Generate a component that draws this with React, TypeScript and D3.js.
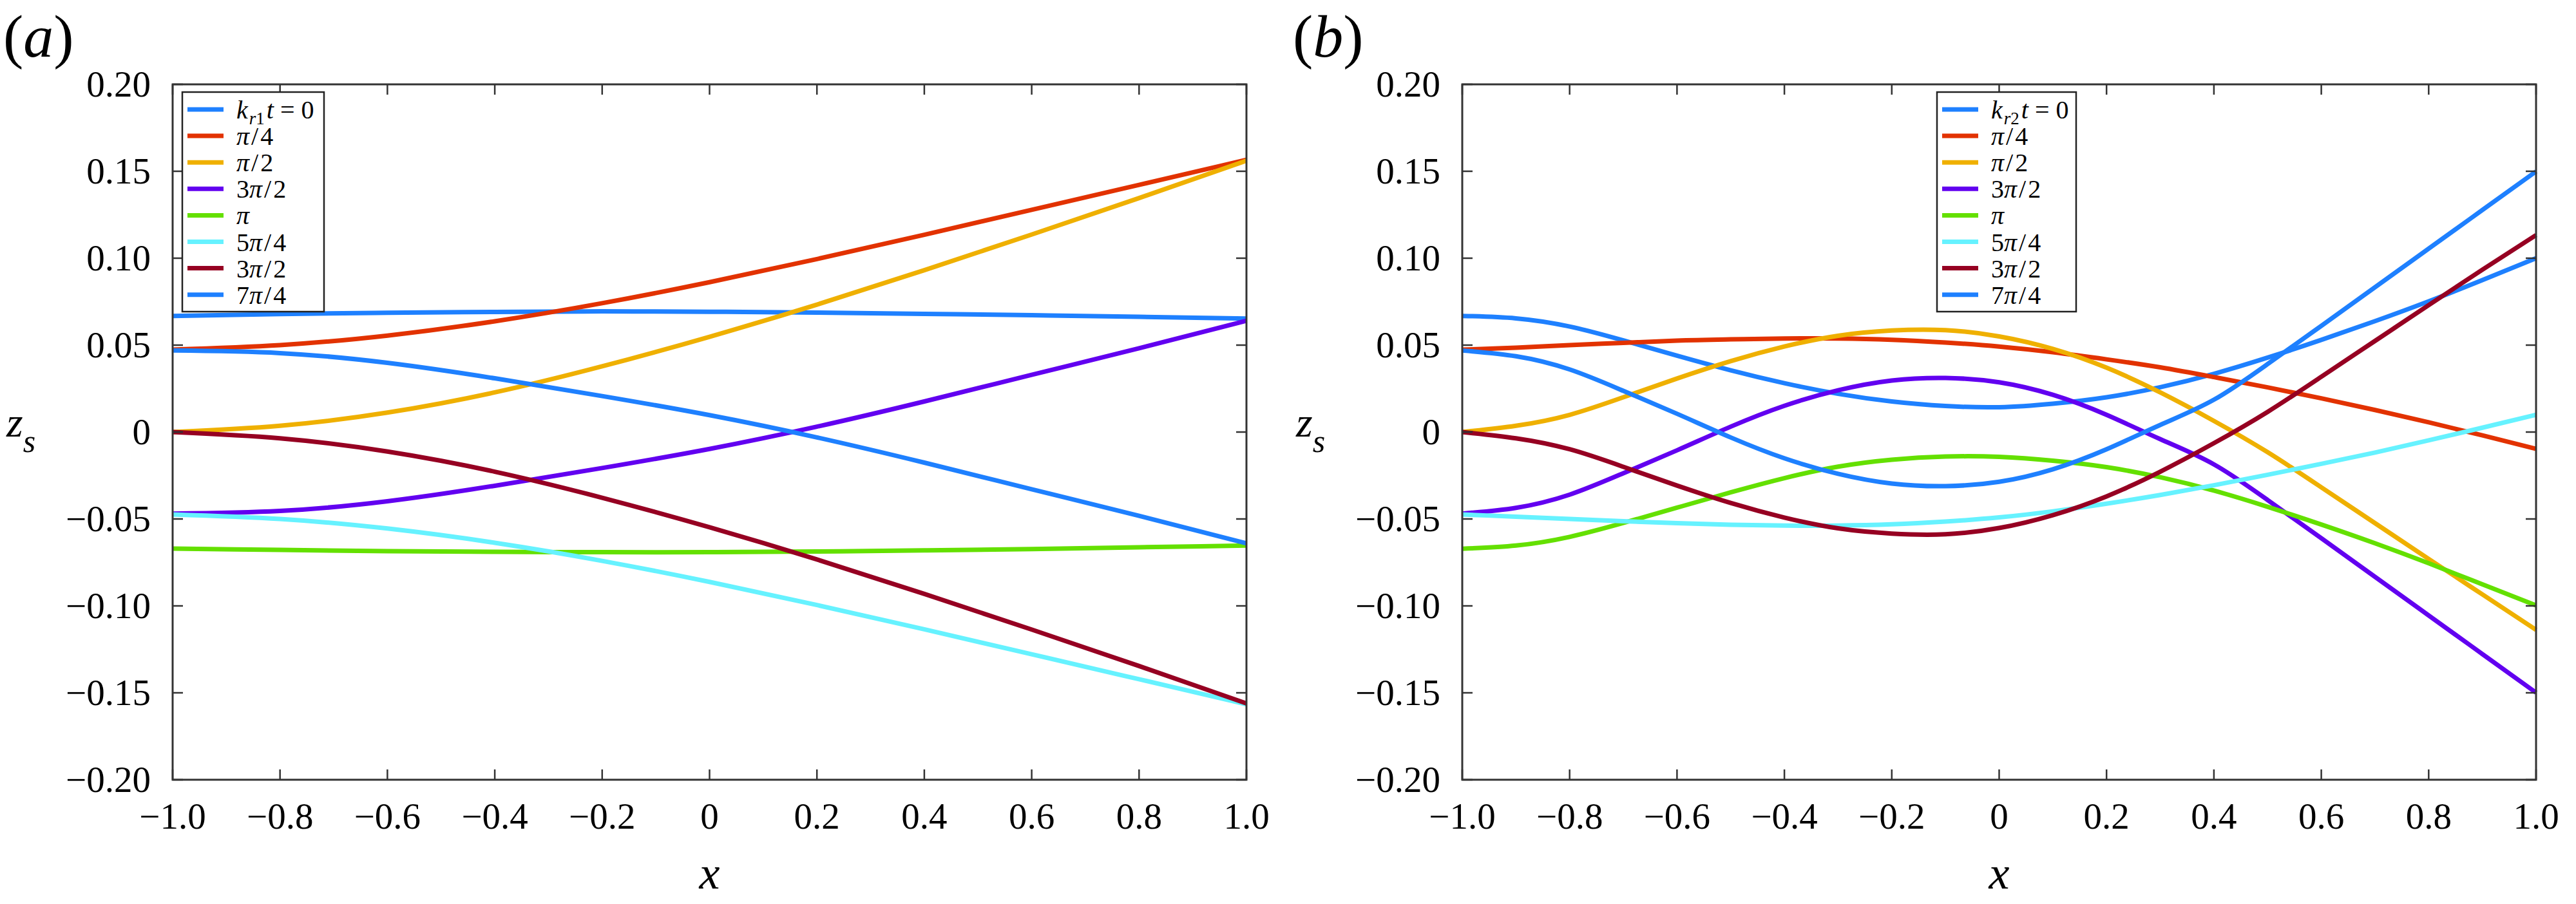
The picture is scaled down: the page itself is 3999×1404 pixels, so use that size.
import { curveNatural, line, scaleLinear } from 'd3';

// x positions where curves were sampled
const xGridA = [-1, -0.8, -0.6, -0.4, -0.2, 0, 0.2, 0.4, 0.6, 0.8, 1];
const xGridB = [
  -1, -0.9, -0.8, -0.7, -0.6, -0.5, -0.4, -0.3, -0.2, -0.1, 0,
  0.1, 0.2, 0.3, 0.4, 0.5, 0.6, 0.7, 0.8, 0.9, 1,
];

// panel (a), k_r1 t = 0 ... 7π/4
const aKt0 = [0.0668, 0.0679, 0.0686, 0.0691, 0.0694, 0.0692, 0.0687, 0.068, 0.0672, 0.0663, 0.0653];
const aPi4 = [0.0474, 0.05, 0.0555, 0.0637, 0.0741, 0.0862, 0.0995, 0.1135, 0.1278, 0.1422, 0.1566];
const aPi2 = [0.0, 0.0036, 0.0112, 0.0228, 0.0378, 0.0548, 0.0733, 0.0931, 0.1136, 0.1346, 0.1561];
const a3Pi2 = [-0.0469, -0.0454, -0.0398, -0.0309, -0.0207, -0.0097, 0.0031, 0.0176, 0.0329, 0.0482, 0.064];
const aPi = [-0.067, -0.0678, -0.0685, -0.0689, -0.0691, -0.0691, -0.0687, -0.0681, -0.0673, -0.0663, -0.0653];
const a5Pi4 = [-0.0474, -0.05, -0.0555, -0.0637, -0.0741, -0.0862, -0.0995, -0.1135, -0.1278, -0.1422, -0.1566];
const a3Pi2b = [0.0, -0.0036, -0.0112, -0.0228, -0.0378, -0.0548, -0.0733, -0.0931, -0.1136, -0.1346, -0.1561];
const a7Pi4 = [0.0469, 0.0454, 0.0398, 0.0309, 0.0207, 0.0097, -0.0031, -0.0176, -0.0329, -0.0482, -0.064];

// panel (b), k_r2 t = 0 ... 7π/4
const bKt0 = [
  0.0668, 0.0654, 0.0607, 0.0527, 0.0439, 0.0355, 0.0281, 0.022, 0.0176, 0.015, 0.0143,
  0.0163, 0.02, 0.0258, 0.0335, 0.0428, 0.053, 0.0638, 0.0752, 0.0874, 0.1,
];
const bPi4 = [
  0.0474, 0.0485, 0.05, 0.0513, 0.0526, 0.0533, 0.0538, 0.0538, 0.0531, 0.0515, 0.0492,
  0.0459, 0.0418, 0.0372, 0.0316, 0.0257, 0.0194, 0.0127, 0.0056, -0.0019, -0.0097,
];
const bPi2 = [
  0.0, 0.0036, 0.0099, 0.02, 0.0308, 0.0408, 0.0492, 0.0554, 0.0584, 0.0586, 0.055,
  0.0478, 0.037, 0.0228, 0.0064, -0.0116, -0.0318, -0.0524, -0.073, -0.0934, -0.1138,
];
const b3Pi2 = [
  -0.0469, -0.0436, -0.036, -0.0237, -0.0105, 0.0031, 0.0151, 0.024, 0.0296, 0.0311, 0.0286,
  0.0214, 0.0099, -0.0041, -0.0186, -0.0391, -0.0611, -0.0833, -0.1055, -0.1277, -0.1499,
];
const bPi = [
  -0.0671, -0.0653, -0.0603, -0.0523, -0.0435, -0.0347, -0.0265, -0.0199, -0.0159, -0.0141, -0.0143,
  -0.0165, -0.0202, -0.026, -0.0337, -0.043, -0.0532, -0.064, -0.0755, -0.0876, -0.0997,
];
const b5Pi4 = [
  -0.0474, -0.0487, -0.05, -0.0513, -0.0524, -0.0533, -0.0538, -0.0538, -0.0531, -0.0515, -0.0491,
  -0.0456, -0.0412, -0.0362, -0.0306, -0.0246, -0.0183, -0.0118, -0.0048, 0.0025, 0.0099,
];
const b3Pi2b = [
  0.0, -0.0036, -0.0099, -0.02, -0.0308, -0.0408, -0.0492, -0.0554, -0.0584, -0.0588, -0.0552,
  -0.0478, -0.037, -0.0228, -0.0064, 0.0116, 0.0318, 0.0524, 0.073, 0.0934, 0.1133,
];
const b7Pi4 = [
  0.0469, 0.0436, 0.036, 0.0237, 0.0105, -0.0031, -0.0151, -0.024, -0.0296, -0.0311, -0.0286,
  -0.0214, -0.0099, 0.0041, 0.0186, 0.0391, 0.0611, 0.0833, 0.1055, 0.1277, 0.1499,
];

const legendLabels = ['t = 0', 'π/4', 'π/2', '3π/2', 'π', '5π/4', '3π/2', '7π/4'];
const colors = ['#1e80ff', '#e23200', '#efb000', '#6200f0', '#64e000', '#66f2ff', '#960022', '#1e80ff'];

const xTicks = [-1, -0.8, -0.6, -0.4, -0.2, 0, 0.2, 0.4, 0.6, 0.8, 1];
const xTickLabels = ['−1.0', '−0.8', '−0.6', '−0.4', '−0.2', '0', '0.2', '0.4', '0.6', '0.8', '1.0'];
const yTicks = [0.2, 0.15, 0.1, 0.05, 0, -0.05, -0.1, -0.15, -0.2];
const yTickLabels = ['0.20', '0.15', '0.10', '0.05', '0', '−0.05', '−0.10', '−0.15', '−0.20'];

const FONT = 'Liberation Serif';
const W = 3999;
const H = 1404;
const plotW = 1667;
const plotH = 1080;
const plotTop = 131;

function LegendText({ text }: { text: string }) {
  // π set in italic, the rest upright
  const parts = text.split(/(π|\/)/).filter((p) => p !== '');
  return (
    <>
      {parts.map((p, i) => (
        <tspan
          key={i}
          fontStyle={p === 'π' ? 'italic' : 'normal'}
          dx={p === '/' || (i > 0 && parts[i - 1] === '/') ? 3 : 0}
        >
          {p}
        </tspan>
      ))}
    </>
  );
}

interface PanelProps {
  left: number;
  tag: string;
  sub: string;
  xs: number[];
  series: number[][];
  legendDx: number;
  legendW: number;
}

function Panel({ left, tag, sub, xs, series, legendDx, legendW }: PanelProps) {
  const x = scaleLinear().domain([-1, 1]).range([left, left + plotW]);
  const y = scaleLinear().domain([-0.2, 0.2]).range([plotTop + plotH, plotTop]);
  const path = line<number>()
    .x((_, i) => x(xs[i]))
    .y((d) => y(d))
    .curve(curveNatural);

  const tickLen = 16;
  const lgX = left + legendDx;
  const lgY = 143;
  const rowH = 41.1;

  return (
    <g>
      {/* panel tag */}
      <text x={left - 263} y={88} fontFamily={FONT} fontSize={94}>
        (<tspan fontStyle="italic">{tag}</tspan>)
      </text>

      {series.map((s, i) => (
        <path key={i} d={path(s) ?? ''} fill="none" stroke={colors[i]} strokeWidth={7} />
      ))}

      {/* frame + inward ticks */}
      <rect x={left} y={plotTop} width={plotW} height={plotH} fill="none" stroke="#333" strokeWidth={3} />
      {xTicks.map((t) => (
        <g key={`xt${t}`} stroke="#333" strokeWidth={2.5}>
          <line x1={x(t)} x2={x(t)} y1={plotTop + plotH} y2={plotTop + plotH - tickLen} />
          <line x1={x(t)} x2={x(t)} y1={plotTop} y2={plotTop + tickLen} />
        </g>
      ))}
      {yTicks.map((t) => (
        <g key={`yt${t}`} stroke="#333" strokeWidth={2.5}>
          <line x1={left} x2={left + tickLen} y1={y(t)} y2={y(t)} />
          <line x1={left + plotW} x2={left + plotW - tickLen} y1={y(t)} y2={y(t)} />
        </g>
      ))}

      {xTicks.map((t, i) => (
        <text key={`xl${t}`} x={x(t)} y={1287} textAnchor="middle" fontFamily={FONT} fontSize={57}>
          {xTickLabels[i]}
        </text>
      ))}
      {yTicks.map((t, i) => (
        <text key={`yl${t}`} x={left - 34} y={y(t) + 19} textAnchor="end" fontFamily={FONT} fontSize={57}>
          {yTickLabels[i]}
        </text>
      ))}

      {/* axis titles */}
      <text x={left + plotW / 2} y={1380} textAnchor="middle" fontFamily={FONT} fontSize={72} fontStyle="italic">
        x
      </text>
      <text x={left - 258} y={678} fontFamily={FONT} fontSize={66} fontStyle="italic">
        z<tspan fontSize={50} dy={24}>s</tspan>
      </text>

      {/* legend */}
      <rect x={lgX} y={lgY} width={legendW} height={341} fill="#fff" stroke="#222" strokeWidth={2.5} />
      {legendLabels.map((lab, i) => {
        const cy = lgY + 27 + i * rowH;
        return (
          <g key={`lg${i}`}>
            <line x1={lgX + 8} x2={lgX + 64} y1={cy} y2={cy} stroke={colors[i]} strokeWidth={7} />
            {i === 0 ? (
              <text x={lgX + 84} y={cy + 14} fontFamily={FONT} fontSize={40}>
                <tspan fontStyle="italic">k</tspan>
                <tspan fontSize={27} dx={2} dy={9} fontStyle="italic">r</tspan>
                <tspan fontSize={27}>{sub}</tspan>
                <tspan dx={3} dy={-9} fontStyle="italic">t</tspan>
                <tspan> = 0</tspan>
              </text>
            ) : (
              <text x={lgX + 84} y={cy + 14} fontFamily={FONT} fontSize={40}>
                <LegendText text={lab} />
              </text>
            )}
          </g>
        );
      })}
    </g>
  );
}

export default function App() {
  return (
    <div style={{ position: 'absolute', left: 0, top: 0 }}>
      <svg width={W} height={H} viewBox={`0 0 ${W} ${H}`} style={{ display: 'block', background: '#fff' }}>
        <Panel
          left={268}
          tag="a"
          sub="1"
          xs={xGridA}
          series={[aKt0, aPi4, aPi2, a3Pi2, aPi, a5Pi4, a3Pi2b, a7Pi4]}
          legendDx={15}
          legendW={220}
        />
        <Panel
          left={2270}
          tag="b"
          sub="2"
          xs={xGridB}
          series={[bKt0, bPi4, bPi2, b3Pi2, bPi, b5Pi4, b3Pi2b, b7Pi4]}
          legendDx={737}
          legendW={216}
        />
      </svg>
    </div>
  );
}
